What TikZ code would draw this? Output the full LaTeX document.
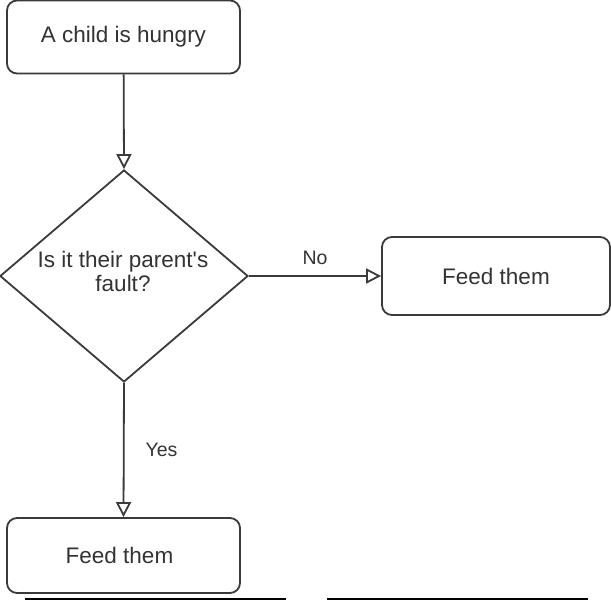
\documentclass[tikz,border=0pt]{standalone}
\usepackage{fontspec}
\setmainfont{Liberation Sans}[Ligatures=TeXOff]
\usetikzlibrary{shapes.geometric,arrows.meta}
\definecolor{ln}{HTML}{3A3A3A}
\definecolor{tx}{HTML}{333333}
\tikzset{
  boxnode/.style={draw=ln, line width=1.8pt, rounded corners=10pt, inner sep=0pt,
    text=tx, font=\fontsize{22.5}{26}\selectfont},
  decnode/.style={draw=ln, line width=1.8pt, diamond, inner sep=0pt},
  txtnode/.style={text=tx, font=\fontsize{22.5}{24}\selectfont, align=center, inner sep=0pt},
  lbl/.style={text=tx, font=\fontsize{19.5}{22}\selectfont, inner sep=0pt},
  conn/.style={draw=ln, line width=1.8pt, -{Triangle[open, length=15pt, width=15pt]}},
  rule/.style={draw=black, line width=2pt}
}
\begin{document}
\begin{tikzpicture}[x=1pt, y=-1pt]
\useasboundingbox (0,0) rectangle (611,600);
\node[boxnode, minimum width=233pt, minimum height=73pt] (start) at (123.5,37) {A child is hungry};
\node[decnode, minimum width=248pt, minimum height=212pt] (dec) at (124,276) {};
\node[txtnode] (dectext) at (123,271) {Is it their parent's\\fault?};
\node[boxnode, minimum width=228pt, minimum height=78pt] (no) at (496,276) {Feed them};
\node[boxnode, minimum width=233pt, minimum height=75pt] (yes) at (123.5,555.5) {\hspace*{-8pt}Feed them};
\draw[conn] (start) -- (dec.north);
\draw[conn] (dec.east) -- node[lbl, pos=0.5, above=10pt] {No} (no.west);
\draw[conn] (dec.south) -- node[lbl, pos=0.5, right=21pt] {Yes} (yes.north);
\coordinate (r1a) at (25,599);
\coordinate (r1b) at (286,599);
\coordinate (r2a) at (327,599);
\coordinate (r2b) at (588,599);
\draw[rule] (r1a) -- (r1b);
\draw[rule] (r2a) -- (r2b);
\end{tikzpicture}
\end{document}
